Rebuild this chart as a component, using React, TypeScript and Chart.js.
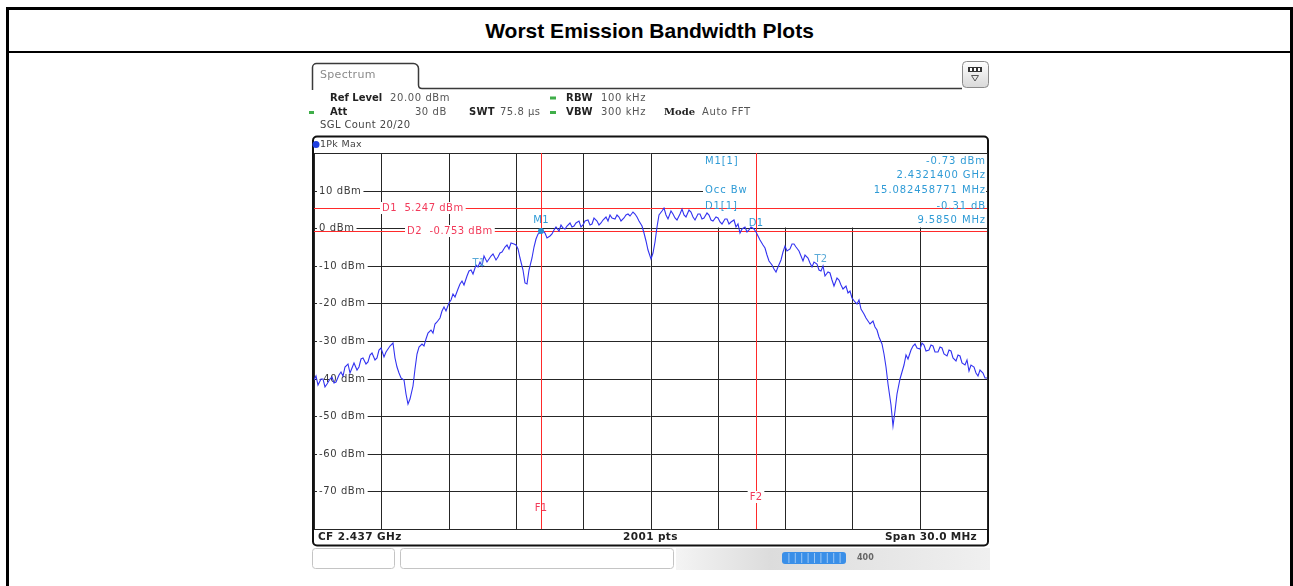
import React, { useEffect, useRef } from "react";
import { Chart, registerables } from "chart.js";

Chart.register(...registerables);

const TITLE = "Worst Emission Bandwidth Plots";

// Sweep / scale settings
const START_MHZ = 2422;
const STOP_MHZ = 2452;
const STEP_MHZ = 0.1;
const DIV_MHZ = 3;
const REF_LEVEL_DBM = 20;
const BOTTOM_DBM = -80;
const DIV_DB = 10;

const Y_TICK_VALUES = [10, 0, -10, -20, -30, -40, -50, -60, -70];
const Y_TICK_LABELS = ["10 dBm", "0 dBm", "-10 dBm", "-20 dBm", "-30 dBm", "-40 dBm", "-50 dBm", "-60 dBm", "-70 dBm"];

// 1Pk Max trace, dBm, read every 0.1 MHz from 2422 MHz
const TRACE_DBM = [
  -40.5, -39.2, -41.8, -40.0, -40.2, -42.3, -41.5, -40.1, -39.6, -41.2,
  -40.8, -39.0, -38.2, -39.4, -37.0, -36.2, -38.5, -37.1, -35.9, -37.6,
  -36.8, -34.9, -34.6, -36.0, -35.5, -33.7, -33.2, -35.1, -34.4, -32.5,
  -31.8, -34.2, -33.0, -32.0, -31.2, -30.6, -34.5, -36.9, -38.6, -39.8,
  -40.5, -44.2, -46.8, -45.5, -42.0, -37.5, -33.5, -31.6, -30.8, -31.4,
  -29.6, -28.0, -27.2, -27.9, -25.5, -25.0, -23.8, -22.1, -21.0, -21.9,
  -19.8, -19.1, -17.5, -18.3, -16.2, -14.9, -14.0, -15.2, -12.6, -11.5,
  -11.0, -12.1, -9.8, -10.4, -8.9, -10.0, -7.5, -9.0, -8.2, -7.3,
  -6.9, -8.4, -7.6, -6.5, -6.2, -5.0, -4.5, -5.4, -3.9, -4.1,
  -4.6, -5.6, -8.0, -11.2, -14.6, -14.9, -11.0, -7.9, -5.0, -3.0,
  -1.5, -0.9, -0.7, -1.4, -2.6, -2.2, -1.5, -0.6, 0.2, -0.8,
  0.8, 0.1, -0.3, 0.6, 1.4, 0.3, 0.6, 1.5, 1.8, 0.4,
  0.9, 1.8, 2.3, 0.9, 1.2, 2.6, 2.0, 0.8, 1.5, 2.2,
  2.9, 1.9, 3.6, 2.7, 2.4, 3.4, 3.1, 2.0, 2.6, 3.5,
  3.8, 3.2, 4.4, 3.9, 2.9, 1.8, 0.5, -1.2, -3.5, -5.8,
  -8.1, -6.5, -3.6, 0.2, 3.5, 4.6, 5.3, 3.4, 2.4, 4.5,
  3.9, 2.8, 2.1, 3.8, 5.1, 3.6, 3.0, 4.8, 4.4, 2.9,
  2.2, 3.9, 3.7, 2.4, 2.6, 4.0, 3.5, 2.3, 1.8, 3.0,
  2.7, 1.6, 1.2, 2.4, 2.5, 1.0, 1.6, 2.1, 0.3, 1.1,
  -1.3, -0.2, 0.4, -0.9, -0.6, 0.3, -0.2, -1.1, -2.2, -3.1,
  -4.6, -5.2, -7.0, -8.6, -9.8, -10.9, -11.6, -10.4, -8.5, -6.2,
  -4.8, -6.0, -5.5, -4.3, -4.2, -5.1, -6.0, -7.4, -8.8, -7.0,
  -7.9, -9.3, -10.2, -8.9, -9.6, -11.0, -11.3, -10.1, -12.8, -11.6,
  -12.0, -13.9, -15.4, -13.2, -13.9, -15.0, -16.3, -15.5, -17.2, -16.6,
  -18.5, -19.6, -20.1, -19.2, -21.4, -22.9, -23.8, -24.6, -25.6, -24.8,
  -26.4, -27.1, -28.9, -30.8, -33.5, -36.9, -41.5, -47.0, -52.5, -48.5,
  -44.0, -40.1, -38.2, -36.5, -33.6, -34.8, -32.5, -31.2, -30.8, -31.9,
  -32.2, -30.5, -31.0, -32.6, -32.4, -31.0, -31.3, -32.9, -33.0, -31.5,
  -31.8, -33.4, -33.9, -32.3, -32.6, -34.5, -35.2, -33.6, -34.1, -35.9,
  -36.5, -35.0, -37.9, -36.3, -37.0, -38.6, -39.2, -37.8, -38.4, -39.9,
  -39.8,
];

// Display lines (horizontal)
const DISPLAY_LINE_DBM = [5.247, -0.753];
const DISPLAY_LINE_TEXT = ["D1  5.247 dBm", "D2  -0.753 dBm"];
const DISPLAY_LINE_TEXT_MHZ = [2425.05, 2426.15];

// Frequency lines (vertical)
const FREQ_LINE_NAMES = ["F1", "F2"];
const FREQ_LINE_MHZ = [2432.14, 2441.725];
const FREQ_LINE_LABEL_DBM = [-74.5, -71.5];

// Markers
const MARKER_NAMES = ["M1", "D1"];
const MARKER_MHZ = [2432.14, 2441.725];
const MARKER_DBM = [-0.73, -1.04];

// Occupied bandwidth edges
const OBW_NAMES = ["T1", "T2"];
const OBW_MHZ = [2429.46, 2444.54];

// Marker info table
const INFO_LEFT = ["M1[1]", "", "Occ Bw", "D1[1]", ""];
const INFO_RIGHT = ["-0.73 dBm", "2.4321400 GHz", "15.082458771 MHz", "-0.31 dB", "9.5850 MHz"];

const FOOTER = ["CF 2.437 GHz", "2001 pts", "Span 30.0 MHz"];

const BLUE_TXT = "#2f9bd6";
const RED = "#ff2a2a";
const RED_TXT = "#f23a5a";
const FONT = "'DejaVu Sans', 'Noto Sans', sans-serif";

function txt(
  ctx: CanvasRenderingContext2D,
  s: string,
  x: number,
  y: number,
  font: string,
  color: string,
  align: CanvasTextAlign = "left",
  ls = 0,
  bg?: string
) {
  ctx.save();
  ctx.font = font;
  (ctx as any).letterSpacing = ls + "px";
  ctx.textAlign = align;
  ctx.textBaseline = "middle";
  if (bg) {
    const w = ctx.measureText(s).width;
    let x0 = x;
    if (align === "right") x0 = x - w;
    else if (align === "center") x0 = x - w / 2;
    ctx.fillStyle = bg;
    ctx.fillRect(x0 - 2, y - 6, w + 4, 12);
  }
  ctx.fillStyle = color;
  ctx.fillText(s, x, y);
  ctx.restore();
}

function roundRect(ctx: CanvasRenderingContext2D, x: number, y: number, w: number, h: number, r: number) {
  ctx.beginPath();
  ctx.moveTo(x + r, y);
  ctx.lineTo(x + w - r, y);
  ctx.arcTo(x + w, y, x + w, y + r, r);
  ctx.lineTo(x + w, y + h - r);
  ctx.arcTo(x + w, y + h, x + w - r, y + h, r);
  ctx.lineTo(x + r, y + h);
  ctx.arcTo(x, y + h, x, y + h - r, r);
  ctx.lineTo(x, y + r);
  ctx.arcTo(x, y, x + r, y, r);
  ctx.closePath();
}

function traceAt(mhz: number) {
  const i = Math.round((mhz - START_MHZ) / STEP_MHZ);
  return TRACE_DBM[Math.max(0, Math.min(TRACE_DBM.length - 1, i))];
}

const analyzerPlugin = {
  id: "analyzer",
  beforeDraw(chart: any) {
    const ctx: CanvasRenderingContext2D = chart.ctx;
    const ca = chart.chartArea;
    ctx.save();
    // Tab + header line
    ctx.strokeStyle = "#3a3a3a";
    ctx.lineWidth = 1.5;
    ctx.beginPath();
    ctx.moveTo(312.5, 90);
    ctx.lineTo(312.5, 68);
    ctx.arcTo(312.5, 63.5, 317, 63.5, 4);
    ctx.lineTo(413, 63.5);
    ctx.arcTo(418.5, 63.5, 418.5, 69, 5);
    ctx.lineTo(418.5, 85);
    ctx.quadraticCurveTo(418.5, 88.5, 422, 88.5);
    ctx.lineTo(962, 88.5);
    ctx.stroke();
    txt(ctx, "Spectrum", 320, 75, `11px ${FONT}`, "#8a8a8a", "left", 0.3);

    // top-right icon
    const g = ctx.createLinearGradient(0, 61, 0, 88);
    g.addColorStop(0, "#ffffff");
    g.addColorStop(1, "#d8d8d8");
    ctx.fillStyle = g;
    roundRect(ctx, 962.5, 61.5, 26, 26, 4);
    ctx.fill();
    ctx.strokeStyle = "#8a8a8a";
    ctx.lineWidth = 1;
    ctx.stroke();
    ctx.fillStyle = "#333";
    ctx.fillRect(968, 67, 14, 5);
    ctx.fillStyle = "#fff";
    ctx.fillRect(970, 68, 2, 3);
    ctx.fillRect(974, 68, 2, 3);
    ctx.fillRect(978, 68, 2, 3);
    ctx.strokeStyle = "#555";
    ctx.beginPath();
    ctx.moveTo(971.5, 75.5);
    ctx.lineTo(978.5, 75.5);
    ctx.lineTo(975, 81);
    ctx.closePath();
    ctx.stroke();

    // settings
    const B = `bold 10px ${FONT}`;
    const R = `10px ${FONT}`;
    const dark = "#222";
    const val = "#555";
    const green = "#3fae49";
    txt(ctx, "Ref Level", 330, 98, B, dark);
    txt(ctx, "20.00 dBm", 390, 98, R, val, "left", 0.6);
    ctx.fillStyle = green;
    ctx.fillRect(550, 96.5, 6, 3);
    txt(ctx, "RBW", 566, 98, B, dark, "left", 0.3);
    txt(ctx, "100 kHz", 601, 98, R, val, "left", 0.6);
    ctx.fillStyle = green;
    ctx.fillRect(309, 111, 5, 3);
    txt(ctx, "Att", 330, 112.5, B, dark);
    txt(ctx, "30 dB", 447, 112.5, R, val, "right", 0.6);
    txt(ctx, "SWT", 469, 112.5, B, dark, "left", 0.3);
    txt(ctx, "75.8 µs", 500, 112.5, R, val, "left", 0.5);
    ctx.fillStyle = green;
    ctx.fillRect(550, 111, 6, 3);
    txt(ctx, "VBW", 566, 112.5, B, dark, "left", 0.3);
    txt(ctx, "300 kHz", 601, 112.5, R, val, "left", 0.6);
    txt(ctx, "Mode", 664, 112.5, `bold 10px 'DejaVu Serif', serif`, dark);
    txt(ctx, "Auto FFT", 702, 112.5, R, val, "left", 0.6);
    txt(ctx, "SGL Count 20/20", 320, 125, R, "#444", "left", 0.4);

    // plot frame
    ctx.fillStyle = "#fff";
    roundRect(ctx, 313, 136.5, 675, 409, 4);
    ctx.fill();
    ctx.strokeStyle = "#111";
    ctx.lineWidth = 2;
    ctx.stroke();
    ctx.fillStyle = "#1f3fe0";
    ctx.beginPath();
    ctx.arc(316, 144.5, 3.5, 0, Math.PI * 2);
    ctx.fill();
    txt(ctx, "1Pk Max", 320, 144.5, `9.5px ${FONT}`, "#444", "left", 0.3);

    // footer strip
    const FB = `bold 10.5px ${FONT}`;
    txt(ctx, FOOTER[0], 318, 537, FB, "#222", "left", 0.4);
    txt(ctx, FOOTER[1], (ca.left + ca.right) / 2, 537, FB, "#222", "center", 0.4);
    txt(ctx, FOOTER[2], 977, 537, FB, "#222", "right", 0.3);

    // soft-key bar
    const g2 = ctx.createLinearGradient(676, 0, 990, 0);
    g2.addColorStop(0, "#f4f4f4");
    g2.addColorStop(0.3, "#dcdcdc");
    g2.addColorStop(1, "#f0f0f0");
    ctx.fillStyle = g2;
    ctx.fillRect(676, 548, 314, 22);
    ctx.strokeStyle = "#c4c4c4";
    ctx.lineWidth = 1;
    roundRect(ctx, 312.5, 548.5, 82, 20, 3);
    ctx.stroke();
    roundRect(ctx, 400.5, 548.5, 273, 20, 3);
    ctx.stroke();
    ctx.fillStyle = "#3a8fe8";
    roundRect(ctx, 782, 552, 64, 12, 3);
    ctx.fill();
    ctx.fillStyle = "#9cc8f5";
    for (let k = 1; k < 10; k++) ctx.fillRect(782 + k * 6.4, 553, 1, 10);
    txt(ctx, "400", 857, 558, `bold 8px ${FONT}`, "#666", "left");
    ctx.restore();
  },
  beforeDatasetsDraw(chart: any) {
    const ctx: CanvasRenderingContext2D = chart.ctx;
    const ca = chart.chartArea;
    const xs = chart.scales.x;
    const ys = chart.scales.y;
    ctx.save();
    // y labels (white backing over grid)
    const LF = `10px ${FONT}`;
    Y_TICK_VALUES.forEach((v, i) => {
      txt(ctx, Y_TICK_LABELS[i], ca.left + 5, ys.getPixelForValue(v), LF, "#3a3a3a", "left", 0.6, "#fff");
    });
    // marker info box
    const boxL = 703;
    ctx.fillStyle = "#fff";
    ctx.fillRect(boxL, ca.top + 1, ca.right - boxL - 1, ys.getPixelForValue(0) - ca.top - 1.5);
    // frequency lines
    ctx.strokeStyle = RED;
    ctx.lineWidth = 1;
    FREQ_LINE_MHZ.forEach((f) => {
      const x = Math.round(xs.getPixelForValue(f)) + 0.5;
      ctx.beginPath();
      ctx.moveTo(x, ca.top);
      ctx.lineTo(x, ca.bottom);
      ctx.stroke();
    });
    // display lines
    DISPLAY_LINE_DBM.forEach((d) => {
      const y = Math.round(ys.getPixelForValue(d)) + 0.5;
      ctx.beginPath();
      ctx.moveTo(ca.left, y);
      ctx.lineTo(ca.right, y);
      ctx.stroke();
    });
    DISPLAY_LINE_DBM.forEach((d, i) => {
      txt(ctx, DISPLAY_LINE_TEXT[i], xs.getPixelForValue(DISPLAY_LINE_TEXT_MHZ[i]), ys.getPixelForValue(d), `10px ${FONT}`, RED_TXT, "left", 0.5, "#fff");
    });
    FREQ_LINE_MHZ.forEach((f, i) => {
      txt(ctx, FREQ_LINE_NAMES[i], xs.getPixelForValue(f), ys.getPixelForValue(FREQ_LINE_LABEL_DBM[i]), `10px ${FONT}`, RED_TXT, "center", 0.3, i === 1 ? "#fff" : undefined);
    });
    // info table
    const IF = `10px ${FONT}`;
    const rowY = [161, 175, 190.5, 206, 220.5];
    INFO_LEFT.forEach((s, i) => {
      if (s) txt(ctx, s, 705, rowY[i], IF, BLUE_TXT, "left", 0.9, i === 2 ? "#fff" : undefined);
    });
    INFO_RIGHT.forEach((s, i) => {
      txt(ctx, s, ca.right - 1, rowY[i], IF, BLUE_TXT, "right", 0.9);
    });
    ctx.restore();
  },
  afterDatasetsDraw(chart: any) {
    const ctx: CanvasRenderingContext2D = chart.ctx;
    const xs = chart.scales.x;
    const ys = chart.scales.y;
    ctx.save();
    const MF = `10px ${FONT}`;
    // M1 dot
    const mx = xs.getPixelForValue(MARKER_MHZ[0]);
    const my = ys.getPixelForValue(MARKER_DBM[0]);
    ctx.fillStyle = "#2a8fd0";
    ctx.beginPath();
    ctx.arc(mx, my, 3, 0, Math.PI * 2);
    ctx.fill();
    txt(ctx, MARKER_NAMES[0], mx, my - 11, MF, BLUE_TXT, "center", 0.3);
    const dx = xs.getPixelForValue(MARKER_MHZ[1]);
    const dy = ys.getPixelForValue(MARKER_DBM[1]);
    txt(ctx, MARKER_NAMES[1], dx, dy - 9, MF, BLUE_TXT, "center", 0.3);
    OBW_MHZ.forEach((f, i) => {
      const tx = xs.getPixelForValue(f);
      const ty = ys.getPixelForValue(traceAt(f));
      if (i === 0) txt(ctx, OBW_NAMES[i], tx - 2, ty - 3, MF, "#5aaad8", "center", 0.3);
      else txt(ctx, OBW_NAMES[i], tx + 1, ty - 11, MF, "#5aaad8", "center", 0.3);
    });
    ctx.restore();
  },
};

export default function App() {
  const ref = useRef<HTMLCanvasElement | null>(null);

  useEffect(() => {
    document.body.style.overflow = "hidden";
    const canvas = ref.current;
    if (!canvas) return;
    const points = TRACE_DBM.map((v, i) => ({ x: START_MHZ + i * STEP_MHZ, y: v }));
    const chart = new Chart(canvas, {
      type: "line",
      data: {
        datasets: [
          {
            label: "1Pk Max",
            data: points,
            borderColor: "#3232f0",
            borderWidth: 1.1,
            pointRadius: 0,
            tension: 0,
            fill: false,
          },
        ],
      },
      options: {
        responsive: false,
        animation: false,
        devicePixelRatio: 1,
        events: [],
        layout: { padding: { left: 314, right: 1293 - 987, top: 153, bottom: 586 - 529 } },
        plugins: {
          legend: { display: false },
          tooltip: { enabled: false },
          title: { display: false },
        },
        scales: {
          x: {
            type: "linear",
            min: START_MHZ,
            max: STOP_MHZ,
            alignToPixels: true,
            ticks: { display: false, stepSize: DIV_MHZ },
            grid: { color: "#262626", lineWidth: 1, drawTicks: false },
            border: { display: false },
            afterFit: (s: any) => {
              s.height = 0;
            },
          },
          y: {
            type: "linear",
            min: BOTTOM_DBM,
            max: REF_LEVEL_DBM,
            alignToPixels: true,
            ticks: { display: false, stepSize: DIV_DB },
            grid: { color: "#262626", lineWidth: 1, drawTicks: false },
            border: { display: false },
            afterFit: (s: any) => {
              s.width = 0;
            },
          },
        },
      },
      plugins: [analyzerPlugin],
    } as any);
    return () => chart.destroy();
  }, []);

  return (
    <div style={{ position: "absolute", left: 0, top: 0, width: 1293, height: 586, overflow: "hidden" }}>
      <div
        style={{
          position: "absolute",
          left: 6,
          top: 7,
          width: 1287,
          height: 579,
          boxSizing: "border-box",
          border: "3px solid #000",
          borderBottom: "none",
        }}
      >
        <div
          style={{
            height: 43,
            boxSizing: "border-box",
            borderBottom: "2px solid #000",
            display: "flex",
            alignItems: "center",
            justifyContent: "center",
            fontFamily: "'Liberation Sans', Arial, sans-serif",
            fontWeight: "bold",
            fontSize: 21,
            color: "#000",
          }}
        >
          {TITLE}
        </div>
      </div>
      <canvas ref={ref} width={1293} height={586} style={{ position: "absolute", left: 0, top: 0 }} />
    </div>
  );
}
